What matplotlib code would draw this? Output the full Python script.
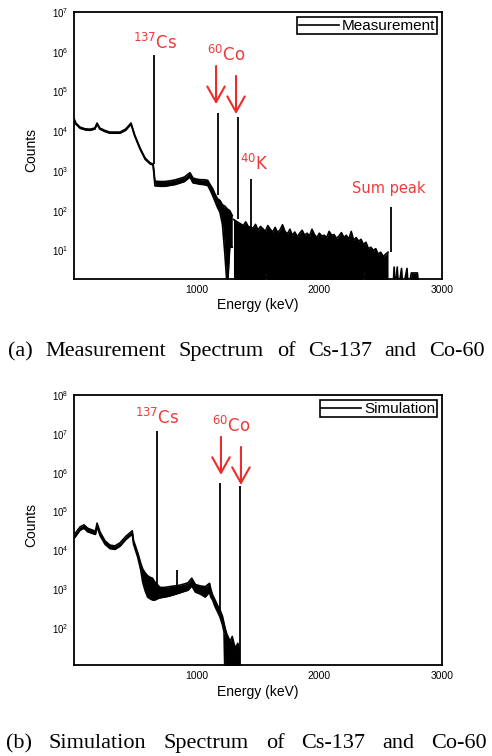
import numpy as np
import matplotlib.pyplot as plt

plt.rcParams['font.family'] = ['Liberation Sans', 'DejaVu Sans']
plt.rcParams['mathtext.default'] = 'regular'

# measured spectrum (keV, upper / lower edge of the trace in counts)
meas_energy = [0, 15, 50, 90, 130, 170, 188, 210, 250, 290, 330, 375, 420, 465, 495, 540, 580, 620, 645,
               660, 700, 740, 780, 820, 860, 900, 945, 970, 1000, 1030, 1060, 1090, 1110, 1130, 1150,
               1170, 1190, 1210, 1230, 1250, 1270, 1290]
meas_upper = [21000, 16000, 12600, 11500, 11200, 12000, 16000, 12000, 10500, 9500, 9500, 9500, 11200, 16000,
              8000, 3700, 2100, 1600, 1480,
              550, 540, 540, 560, 590, 640, 700, 900, 660, 620, 600, 600, 580, 450, 360, 260,
              200, 180, 140, 130, 110, 100, 75]
meas_lower = [19500, 15000, 11800, 10800, 10500, 11300, 15000, 11300, 9800, 8900, 8900, 8900, 10500, 15000,
              7500, 3450, 1950, 1500, 1400,
              420, 410, 410, 430, 450, 490, 540, 700, 500, 480, 460, 450, 430, 330, 240, 170,
              120, 90, 45, 8, 1, 12, 12]

# noisy continuum above the Co-60 peaks, read every 20 keV
meas_noise_energy = list(range(1300, 2580, 20))
meas_noise_upper = [60, 55, 50, 46, 42, 52, 40, 38, 36, 45, 32, 40, 35, 30, 42, 34, 29, 38, 28, 33,
                    44, 30, 26, 34, 24, 29, 22, 27, 32, 24, 27, 23, 34, 25, 21, 27, 23, 24, 21, 30,
                    24, 25, 20, 23, 28, 21, 24, 19, 30, 18, 21, 17, 19, 14, 16, 11, 12, 10, 11, 8,
                    9, 7, 8, 9]
meas_noise_lower = [1, 1, 1, 1, 1, 1, 1, 1, 1, 1, 1, 1, 1, 3, 1, 1, 1, 1, 1, 1,
                    1, 1, 1, 1, 1, 1, 1, 1, 1, 1, 1, 1, 1, 1, 1, 1, 1, 1, 1, 1,
                    1, 1, 1, 1, 1, 1, 1, 1, 1, 1, 1, 1, 1, 3, 1, 1, 1, 1, 1, 1,
                    1, 1, 1, 1]
meas_tail_energy = [2580, 2600, 2610, 2620, 2635, 2645, 2670, 2680, 2715, 2725, 2750, 2800, 2810]
meas_tail_upper = [1, 1, 3.8, 1, 3.8, 1, 3.5, 1, 3.5, 1, 2.7, 2.7, 1]

meas_peak_energy = [650, 1171, 1334, 1442, 2585]
meas_peak_counts = [8.5e5, 2.9e4, 2.3e4, 620, 123]
meas_peak_base = [1480, 250, 60, 35, 9]

# simulated spectrum
sim_energy = [0, 30, 50, 82, 110, 150, 175, 188, 212, 253, 293, 334, 375, 424, 475, 485, 520, 545, 560,
              580, 600, 620, 640, 660, 680, 700, 740, 780, 820, 860, 900, 930, 960, 990, 1030, 1070,
              1105, 1115, 1130, 1150, 1170, 1190, 1210, 1223, 1235, 1245, 1260, 1275, 1290, 1305,
              1320, 1335, 1345, 1350]
sim_upper = [24500, 33000, 40000, 45000, 37000, 33000, 31000, 50000, 29500, 17400, 13500, 12900, 15500,
             23000, 31600, 18000, 8500, 4500, 3300, 2600, 2200, 2000, 1900, 1500, 1300, 1100, 1100, 1150,
             1200, 1250, 1350, 1450, 1900, 1300, 1200, 1150, 1400, 1000, 700, 520, 380, 290, 200, 130,
             90, 70, 55, 45, 60, 38, 30, 40, 30, 1]
sim_lower = [20000, 27000, 33000, 37000, 30000, 27000, 25500, 41000, 24000, 14200, 11000, 10500, 12700,
             19000, 26000, 14500, 6500, 3000, 1500, 900, 620, 560, 520, 520, 560, 590, 620, 660,
             720, 790, 870, 930, 1200, 830, 740, 620, 830, 620, 520, 350, 260, 190, 120, 78,
             1, 1, 1, 1, 1, 1, 1, 1, 1, 1]

sim_peak_energy = [677, 837, 1190, 1351]
sim_peak_counts = [1.2e7, 3100, 5.5e5, 4.5e5]
sim_peak_base = [1000, 1150, 290, 10]

RED = '#ee2b2b'
TXT_RED = '#f03a3a'


def draw_trace(ax, e, up, lo):
    ax.fill_between(e, lo, up, color='k', lw=0)
    ax.plot(e, up, color='k', lw=1.2)
    ax.plot(e, lo, color='k', lw=1.2)


def style_axes(ax, ylim, yticks):
    ax.set_yscale('log')
    ax.set_xlim(0, 3000)
    ax.set_ylim(*ylim)
    ax.set_xticks([1000, 2000, 3000])
    ax.set_yticks(yticks)
    ax.minorticks_off()
    ax.tick_params(length=0, pad=4)
    ax.tick_params(axis='x', labelsize=7.5)
    ax.tick_params(axis='y', labelsize=7)
    for s in ax.spines.values():
        s.set_linewidth(1.3)
    ax.set_xlabel('Energy (keV)', fontsize=10)
    ax.set_ylabel('Counts', fontsize=10)


def arrow(ax, x, y0, y1):
    ax.annotate('', xy=(x, y1), xytext=(x, y0),
                arrowprops=dict(arrowstyle='->,head_length=0.8,head_width=0.45',
                                color=RED, lw=1.5, mutation_scale=14, shrinkA=0, shrinkB=0))


def label(ax, x, y, s, size=12):
    ax.text(x, y, s, color=TXT_RED, fontsize=size, family='DejaVu Sans', ha='left', va='baseline')


fig = plt.figure(figsize=(4.92, 7.56), dpi=100)

# (a) measurement
ax1 = fig.add_axes([74 / 492, 1 - 279 / 756, 368 / 492, 267 / 756])
draw_trace(ax1, meas_energy, meas_upper, meas_lower)
draw_trace(ax1, meas_noise_energy, meas_noise_upper, meas_noise_lower)
draw_trace(ax1, meas_tail_energy, meas_tail_upper, [1] * len(meas_tail_energy))
ax1.vlines(meas_peak_energy, meas_peak_base, meas_peak_counts, color='k', lw=1.3)
style_axes(ax1, (1.9, 1e7), [10 ** k for k in range(1, 8)])
h1, = ax1.plot([], [], color='k', lw=1.2, label='Measurement')
leg = ax1.legend(handles=[h1], loc='upper right', fontsize=11, fancybox=False, framealpha=1,
                 edgecolor='k', borderpad=0.1, handletextpad=0.2, handlelength=2.6,
                 borderaxespad=0.35)
leg.get_frame().set_linewidth(1.2)
label(ax1, 481, 1.17e6, '$^{137}$Cs')
label(ax1, 1084, 5.9e5, '$^{60}$Co')
label(ax1, 1353, 1050, '$^{40}$K')
label(ax1, 2266, 275, 'Sum peak', size=10.5)
arrow(ax1, 1158, 10 ** 5.64, 10 ** 4.68)
arrow(ax1, 1321, 10 ** 5.39, 10 ** 4.43)
ax1.yaxis.set_label_coords(-0.098, 0.483)
ax1.xaxis.set_label_coords(0.5, -0.071)

# (b) simulation
ax2 = fig.add_axes([74 / 492, 1 - 665 / 756, 368 / 492, 270 / 756])
draw_trace(ax2, sim_energy, sim_upper, sim_lower)
ax2.vlines(sim_peak_energy, sim_peak_base, sim_peak_counts, color='k', lw=1.3)
style_axes(ax2, (11, 1e8), [10 ** k for k in range(2, 9)])
h2, = ax2.plot([], [], color='k', lw=1.2, label='Simulation')
leg = ax2.legend(handles=[h2], loc='upper right', fontsize=11, fancybox=False, framealpha=1,
                 edgecolor='k', borderpad=0.1, handletextpad=0.2, handlelength=2.6,
                 borderaxespad=0.35)
leg.get_frame().set_linewidth(1.2)
label(ax2, 497, 1.78e7, '$^{137}$Cs')
label(ax2, 1125, 1.1e7, '$^{60}$Co')
arrow(ax2, 1198, 10 ** 6.92, 10 ** 5.94)
arrow(ax2, 1361, 10 ** 6.66, 10 ** 5.68)
ax2.yaxis.set_label_coords(-0.098, 0.52)
ax2.xaxis.set_label_coords(0.5, -0.074)


def caption(words, x0, x1, y, size=16):
    texts = [fig.text(0, y, w, fontsize=size, family='Liberation Serif', va='baseline') for w in words]
    r = fig.canvas.get_renderer()
    widths = [t.get_window_extent(r).width for t in texts]
    gap = (x1 - x0 - sum(widths)) / (len(words) - 1)
    x = x0
    for t, w in zip(texts, widths):
        t.set_x(x / 492)
        x += w + gap


caption(['(a)', 'Measurement', 'Spectrum', 'of', 'Cs-137', 'and', 'Co-60'], 8, 485, 1 - 356 / 756)
caption(['(b)', 'Simulation', 'Spectrum', 'of', 'Cs-137', 'and', 'Co-60'], 6, 487, 1 - 748 / 756)

fig.savefig('out.png', dpi=100)
